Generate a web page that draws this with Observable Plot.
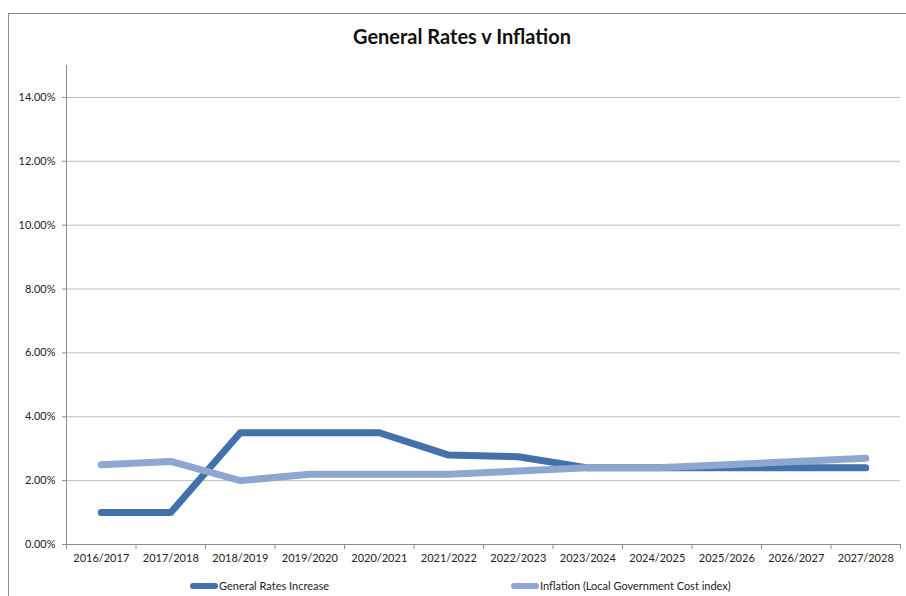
<!DOCTYPE html>
<html>
<head>
<meta charset="utf-8">
<script src="https://cdn.jsdelivr.net/npm/d3@7"></script>
<script src="https://cdn.jsdelivr.net/npm/@observablehq/plot@0.6"></script>
<style>
  html, body { margin: 0; padding: 0; background: #fff; }
  #wrap { position: relative; width: 906px; height: 596px; overflow: hidden; font-family: Lato, "Open Sans", sans-serif; }
  #frame { position: absolute; left: 8px; top: 13px; width: 910px; height: 600px; border-top: 1px solid #8c8c8c; border-left: 1px solid #8c8c8c; }
  #title { position: absolute; left: 0; top: 24px; width: 924px; text-align: center; font-weight: bold; font-size: 20px; color: #111; }
  #chart { position: absolute; left: 0; top: 0; }
  .leg { position: absolute; top: 579px; font-size: 11px; color: #222; display: flex; align-items: center; }
  .leg span.sw { display: inline-block; width: 28px; height: 6px; border-radius: 3px; margin-right: 1px; }
</style>
</head>
<body>
<div id="wrap">
  <div id="frame"></div>
  <div id="chart"></div>
  <div id="title">General Rates v Inflation</div>
  <div class="leg" style="left:190px"><span class="sw" style="background:#4371a9"></span>General Rates Increase</div>
  <div class="leg" style="left:511px"><span class="sw" style="background:#8da7d0"></span>Inflation (Local Government Cost index)</div>
</div>
<script>
const categories = ["2016/2017","2017/2018","2018/2019","2019/2020","2020/2021","2021/2022","2022/2023","2023/2024","2024/2025","2025/2026","2026/2027","2027/2028"];
const generalRates = [1.0, 1.0, 3.5, 3.5, 3.5, 2.8, 2.75, 2.4, 2.4, 2.4, 2.4, 2.4];
const inflation = [2.5, 2.6, 2.0, 2.2, 2.2, 2.2, 2.3, 2.4, 2.4, 2.5, 2.6, 2.7];
const yTicks = [0, 2, 4, 6, 8, 10, 12, 14];

const rates = categories.map((c, i) => ({x: i + 0.5, y: generalRates[i]}));
const infl = categories.map((c, i) => ({x: i + 0.5, y: inflation[i]}));
const boundaries = d3.range(categories.length + 1);
const centers = categories.map((c, i) => i + 0.5);

const chart = Plot.plot({
  width: 906,
  height: 596,
  marginLeft: 66,
  marginRight: 6,
  marginTop: 65,
  marginBottom: 52,
  style: {fontFamily: "Lato, 'Open Sans', sans-serif", fontSize: "11px", color: "#222", background: "transparent"},
  x: {type: "linear", domain: [0, categories.length], axis: null, label: null},
  y: {domain: [0, 15], axis: null, label: null},
  marks: [
    Plot.gridY(yTicks.filter(d => d > 0), {stroke: "#bdbdbd", strokeOpacity: 1}),
    Plot.axisY(yTicks, {anchor: "left", label: null, tickSize: 4, tickPadding: 7, stroke: "#8c8c8c", tickFormat: d => d.toFixed(2) + "%", fill: "#222"}),
    Plot.ruleX([0], {stroke: "#8c8c8c"}),
    Plot.ruleY([0], {stroke: "#8c8c8c"}),
    Plot.axisX(boundaries, {anchor: "bottom", label: null, tickSize: 5, tickFormat: () => "", stroke: "#8c8c8c"}),
    Plot.axisX(centers, {anchor: "bottom", label: null, tickSize: 0, tickPadding: 10, tickFormat: d => categories[Math.floor(d)], fill: "#222"}),
    Plot.line(rates, {x: "x", y: "y", stroke: "#4371a9", strokeWidth: 7, strokeLinecap: "round", strokeLinejoin: "round"}),
    Plot.line(infl, {x: "x", y: "y", stroke: "#8da7d0", strokeWidth: 7, strokeLinecap: "round", strokeLinejoin: "round"})
  ]
});
document.getElementById("chart").appendChild(chart);
</script>
</body>
</html>
